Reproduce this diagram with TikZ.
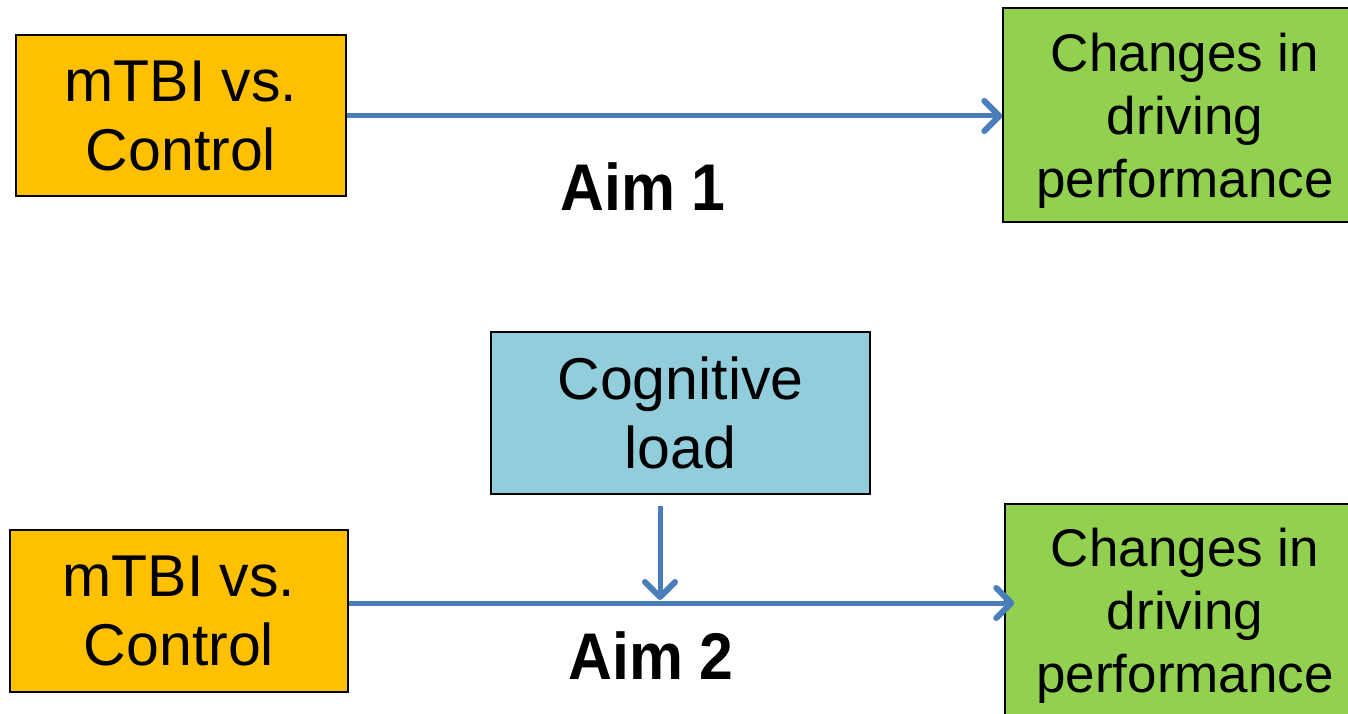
\documentclass[tikz,border=0pt]{standalone}
\usepackage{fontspec}
\usepackage{graphicx}
\setmainfont{Liberation Sans}
\usetikzlibrary{arrows.meta}
\definecolor{orangebox}{HTML}{FFC000}
\definecolor{greenbox}{HTML}{92D050}
\definecolor{cyanbox}{HTML}{92CDDC}
\definecolor{arrowblue}{HTML}{4A7EBB}
\tikzset{
  box/.style={draw=black, line width=1.5pt, inner sep=0pt, align=center, text depth=0pt},
  bigtext/.style={font=\fontsize{59}{69}\selectfont},
  midtext/.style={font=\fontsize{53}{63}\selectfont},
  conn/.style={draw=arrowblue, line width=5pt, -{Straight Barb[length=15pt,width=30pt,round,line width=6pt]}},
  aimlabel/.style={anchor=base, inner sep=0pt, font=\bfseries\fontsize{66}{70}\selectfont}
}
\begin{document}
\begin{tikzpicture}[x=1pt,y=-1pt]
\useasboundingbox (0,0) rectangle (1348,714);
\node[box, bigtext, fill=orangebox, minimum width=330pt, minimum height=161pt] (o1) at (181,115.5) {mTBI vs.\\Control};
\node[box, midtext, fill=greenbox, minimum width=364pt, minimum height=214pt] (g1) at (1185,115) {Changes in\\driving\\performance};
\node[box, bigtext, fill=cyanbox, minimum width=379pt, minimum height=162pt] (c) at (680.5,413) {Cognitive\\load};
\node[box, bigtext, fill=orangebox, minimum width=338pt, minimum height=162pt] (o2) at (179,611) {mTBI vs.\\Control};
\node[box, midtext, fill=greenbox, minimum width=360pt, minimum height=212pt] (g2) at (1185,610) {Changes in\\driving\\performance};
\coordinate (j) at (660,603);
\draw[conn] (o1.east |- 0,116) -- (g1.west |- 0,116);
\draw[conn, shorten >=-10pt] (o2.east |- j) -- (g2.west |- j);
\draw[conn, shorten <=11pt, shorten >=3pt] (c.south -| j) -- (j);
\node[aimlabel] (aim1) at (643,211) {\scalebox{0.92}[1]{Aim 1}};
\node[aimlabel] (aim2) at (651,679) {\scalebox{0.92}[1]{Aim 2}};
\end{tikzpicture}
\end{document}
